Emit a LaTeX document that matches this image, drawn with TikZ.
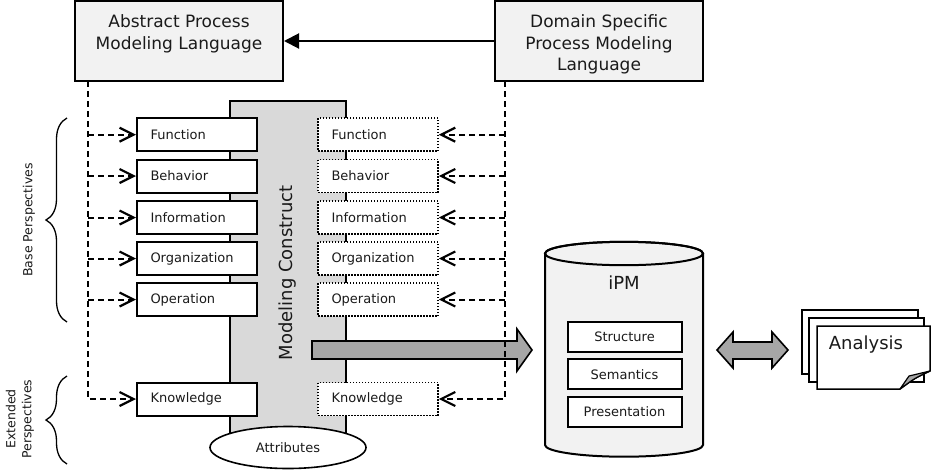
\documentclass[tikz,border=0pt]{standalone}
\usepackage{fontspec}
\setmainfont{DejaVu Sans}
\usetikzlibrary{arrows.meta,decorations.pathreplacing,shapes.geometric}
\definecolor{boxfill}{HTML}{F2F2F2}
\definecolor{colfill}{HTML}{D9D9D9}
\definecolor{arrfill}{HTML}{A6A6A6}
\definecolor{txt}{HTML}{1A1A1A}
\begin{document}
\begin{tikzpicture}[x=1pt,y=-1pt,
  every node/.style={text=txt},
  titlebox/.style={draw, line width=2pt, fill=boxfill, minimum width=208pt, minimum height=80pt, inner sep=0pt},
  titletext/.style={anchor=north, align=center, font=\fontsize{17}{21.5}\selectfont, inner sep=0pt},
  persp/.style={draw, line width=2pt, fill=white, minimum height=33pt, text width=93pt, inner xsep=13.5pt, inner ysep=0pt, align=left, font=\fontsize{13}{15}\selectfont},
  perspdot/.style={persp, line width=1.6pt, dash pattern=on 1.5pt off 1.5pt},
  inbox/.style={draw, line width=2pt, fill=white, minimum width=114pt, minimum height=30pt, inner sep=0pt, font=\fontsize{13}{15}\selectfont},
  dashln/.style={line width=2pt, dash pattern=on 6pt off 4pt},
  dasharr/.style={dashln, -{Straight Barb[length=14pt,width=14pt,line width=2.2pt]}},
  bigarrow/.style={draw, fill=arrfill, line width=1.6pt, line join=miter},
  bracestyle/.style={line width=1.3pt, decorate, decoration={brace, amplitude=21pt}},
  sidetext/.style={rotate=90, align=center, font=\fontsize{12.5}{16}\selectfont, inner sep=0pt},
  page/.style={draw, fill=white, line width=1.5pt}
]
\path[use as bounding box] (0,0) rectangle (931,469);

% title boxes
\node[titlebox] (apml) at (179,41) {};
\node[titletext] (apmlt) at (179,14.5) {Abstract Process\\Modeling Language};
\node[titlebox] (dspml) at (599,41) {};
\node[titletext] (dspmlt) at (599,14.5) {Domain Specific\\Process Modeling\\Language};
\draw[line width=2pt, -{Triangle[length=15pt,width=15pt]}] (dspml.west) -- (apml.east);

% modeling construct column
\node[draw, fill=colfill, line width=1.6pt, minimum width=116pt, minimum height=345pt, anchor=north, inner sep=0pt] (mc) at (288,100) {};

% left perspective boxes
\node[persp] (lf) at (197,134.7) {Function};
\node[persp] (lb) at (197,176) {Behavior};
\node[persp] (li) at (197,217.5) {Information};
\node[persp] (lo) at (197,258.5) {Organization};
\node[persp] (lp) at (197,299.5) {Operation};
\node[persp] (lk) at (197,399) {Knowledge};

% right perspective boxes
\node[perspdot] (rf) at (378,134.7) {Function};
\node[perspdot] (rb) at (378,176) {Behavior};
\node[perspdot] (ri) at (378,217.5) {Information};
\node[perspdot] (ro) at (378,258.5) {Organization};
\node[perspdot] (rp) at (378,299.5) {Operation};
\node[perspdot] (rk) at (378,399) {Knowledge};

\node[rotate=90, font=\fontsize{18}{20}\selectfont, inner sep=0pt] (mct) at (288,273) {Modeling Construct};

\node[draw, ellipse, fill=white, line width=1.6pt, minimum width=156pt, minimum height=42pt, inner sep=0pt, font=\fontsize{13}{15}\selectfont] (attr) at (288,447.5) {Attributes};

% big arrow to iPM
\path[bigarrow] (312,341) -- (517,341) -- (517,329) -- (532,350) -- (517,371) -- (517,359) -- (312,359) -- cycle;

% dashed connectors
\coordinate (lv) at (88,81);
\coordinate (rv) at (505,81);
\draw[dasharr] (lv) |- (lk.west);
\foreach \n in {lf,lb,li,lo,lp} { \draw[dasharr] (lv |- \n.west) -- (\n.west); }
\draw[dasharr] (rv) |- (rk.east);
\foreach \n in {rf,rb,ri,ro,rp} { \draw[dasharr] (rv |- \n.east) -- (\n.east); }

% braces
\draw[bracestyle] (67,322) -- (67,118);
\draw[bracestyle] (67,464) -- (67,376);
\node[sidetext] (bp) at (29,220) {Base Perspectives};
\node[sidetext] (ep) at (20,419) {Extended\\Perspectives};

% iPM cylinder
\path[draw, fill=boxfill, line width=2pt] (545,253.5) -- (545,445) arc[start angle=180, end angle=360, x radius=79pt, y radius=11.7pt] -- (703,253.5) arc[start angle=0, end angle=180, x radius=79pt, y radius=11.7pt] -- cycle;
\draw[line width=2pt] (624,253.5) ellipse [x radius=79pt, y radius=11.7pt];
\node[font=\fontsize{18}{20}\selectfont, inner sep=0pt] (ipm) at (624,283) {iPM};
\node[inbox] (st) at (624.5,336.7) {Structure};
\node[inbox] (se) at (624.5,374.3) {Semantics};
\node[inbox] (pr) at (624.5,411.7) {Presentation};

% double arrow
\path[bigarrow] (717,350) -- (733,332) -- (733,342) -- (772,342) -- (772,332) -- (788,350) -- (772,368) -- (772,359) -- (733,359) -- (733,368) -- cycle;

% analysis documents
\path[page] (802,310) rectangle (918,374);
\path[page] (809,318) rectangle (924,382);
\path[page] (817,326) -- (930,326) -- (930,371) .. controls (915,378) .. (900,389) -- (817,389) -- cycle;
\path[draw, fill=arrfill, line width=1.2pt, line join=round] (900,389) -- (909,376) -- (930,371) .. controls (915,378) .. (900,389) -- cycle;
\node[font=\fontsize{18}{20}\selectfont, inner sep=0pt] (ana) at (866,345) {Analysis};
\end{tikzpicture}
\end{document}
